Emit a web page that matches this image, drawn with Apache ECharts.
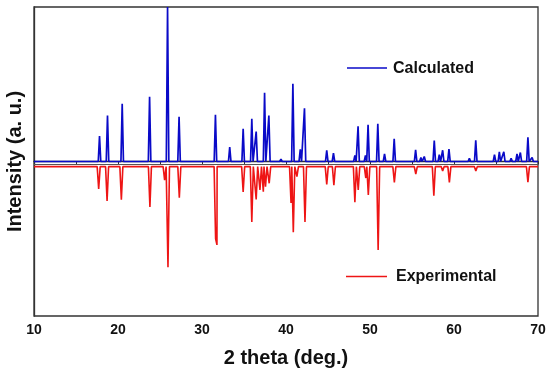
<!DOCTYPE html>
<html>
<head>
<meta charset="utf-8">
<script src="https://cdn.jsdelivr.net/npm/echarts@6/dist/echarts.min.js"></script>
<style>html,body{margin:0;padding:0;background:#fff;}#c{width:550px;height:376px;}</style>
</head>
<body>
<div id="c"></div>
<script>
// Calculated pattern: peak positions (2θ) and intensities (baseline 0)
var calcPos = [17.8, 18.75, 20.5, 23.76, 25.9, 27.27, 31.6, 33.3, 34.9, 35.93, 36.45, 37.45, 37.96, 39.4, 40.82, 41.7, 42.2, 44.85, 45.65, 48.2, 48.58, 49.46, 49.77, 50.93, 51.73, 52.88, 55.43, 56.06, 56.46, 57.65, 58.25, 58.65, 59.4, 61.83, 62.59, 64.82, 65.4, 65.93, 66.8, 67.5, 67.9, 68.8, 69.3];
var calcInt = [16.4, 29.8, 37.3, 41.9, 100, 28.9, 30.2, 9.3, 21.2, 27.6, 19.4, 44.5, 29.8, 1.6, 50.3, 7.8, 34.5, 7.3, 5.4, 4, 22.8, 3.9, 23.7, 24.4, 5, 14.7, 7.6, 2.6, 3.2, 13.6, 4.5, 7.3, 8, 2, 13.8, 4.5, 6.3, 6.3, 2, 5, 5.8, 15.7, 2.6];
var calcBase = 0;
// Experimental pattern: peak positions and (downward) peak values
var expPos = [17.7, 18.7, 20.4, 23.8, 25.55, 25.95, 27.3, 31.62, 31.78, 34.9, 35.93, 36.45, 36.9, 37.3, 37.56, 38.0, 40.6, 40.87, 41.3, 42.26, 44.85, 45.7, 48.2, 48.6, 49.5, 49.8, 50.97, 52.9, 55.45, 57.6, 58.65, 59.45, 62.6, 68.8];
var expInt = [-17.8, -25.6, -24.7, -29.4, -12, -68.5, -23.4, -50, -54, -19.7, -39.2, -24.5, -18.4, -19.5, -16.3, -14.1, -26.9, -45.8, -9.8, -39.2, -14.8, -15.4, -26.4, -18.4, -10.7, -21.7, -57.3, -13.5, -8.1, -22.1, -6.1, -13.5, -6.1, -13.3];
var expBase = -3.3;
var xTicks = [10, 20, 30, 40, 50, 60, 70];
var legendNames = ['Calculated', 'Experimental'];

function build(pos, val, base, hw) {
  var pts = [[10, base]];
  for (var i = 0; i < pos.length; i++) {
    pts.push([pos[i] - hw, base]);
    pts.push([pos[i], val[i]]);
    pts.push([pos[i] + hw, base]);
  }
  pts.push([70, base]);
  pts.sort(function (a, b) { return a[0] - b[0]; });
  return pts;
}

var blue = '#0a0ac8', red = '#ee1515';
var chart = echarts.init(document.getElementById('c'));
var font = 'Arial, "Liberation Sans", sans-serif';
chart.setOption({
  animation: false,
  backgroundColor: '#fff',
  grid: { left: 34, right: 12, top: 7, bottom: 60, outerBoundsMode: 'none', containLabel: false,
    show: true, borderColor: '#333', borderWidth: 1.3, backgroundColor: 'transparent' },
  graphic: [
    { type: 'line', shape: { x1: 347, y1: 68, x2: 387, y2: 68 }, style: { stroke: blue, lineWidth: 1.6 } },
    { type: 'text', left: 393, top: 61, style: { text: legendNames[0], fill: '#111', font: 'bold 16px ' + font } },
    { type: 'line', shape: { x1: 346, y1: 276.5, x2: 387, y2: 276.5 }, style: { stroke: red, lineWidth: 1.6 } },
    { type: 'text', left: 396, top: 269, style: { text: legendNames[1], fill: '#111', font: 'bold 16px ' + font } }
  ],
  xAxis: {
    type: 'value', min: 10, max: 70, interval: 10,
    name: '2 theta (deg.)', nameLocation: 'middle', nameGap: 32,
    nameTextStyle: { fontFamily: font, fontWeight: 'bold', fontSize: 20, color: '#111' },
    axisLine: { lineStyle: { color: '#333', width: 1.3 } },
    axisTick: { show: true, inside: false, length: 3, lineStyle: { color: '#333' } },
    minorTick: { show: true, splitNumber: 2, length: 3, lineStyle: { color: '#333' } },
    axisLabel: { fontFamily: font, fontWeight: 'bold', fontSize: 14, color: '#111', margin: 7,
      formatter: function (v) { return xTicks.indexOf(v) >= 0 ? String(v) : ''; } },
    splitLine: { show: false }
  },
  yAxis: {
    type: 'value', min: -100, max: 100,
    name: 'Intensity (a. u.)', nameLocation: 'middle', nameGap: 9, nameRotate: 90,
    nameTextStyle: { fontFamily: font, fontWeight: 'bold', fontSize: 20, color: '#111' },
    axisLine: { show: true, lineStyle: { color: '#333', width: 1.3 } },
    axisTick: { show: false }, axisLabel: { show: false }, splitLine: { show: false }
  },
  series: [
    { name: 'Calculated', type: 'line', data: build(calcPos, calcInt, calcBase, 0.15), symbol: 'none',
      lineStyle: { color: blue, width: 1.7 }, itemStyle: { color: blue }, clip: true, z: 3,
      markLine: { silent: true, symbol: 'none', label: { show: false }, lineStyle: { color: '#555', width: 1, type: 'solid' }, data: [{ yAxis: -1.6 }] } },
    { name: 'Experimental', type: 'line', data: build(expPos, expInt, expBase, 0.18), symbol: 'none',
      lineStyle: { color: red, width: 1.6 }, itemStyle: { color: red }, clip: true, z: 2 }
  ]
});
</script>
</body>
</html>
